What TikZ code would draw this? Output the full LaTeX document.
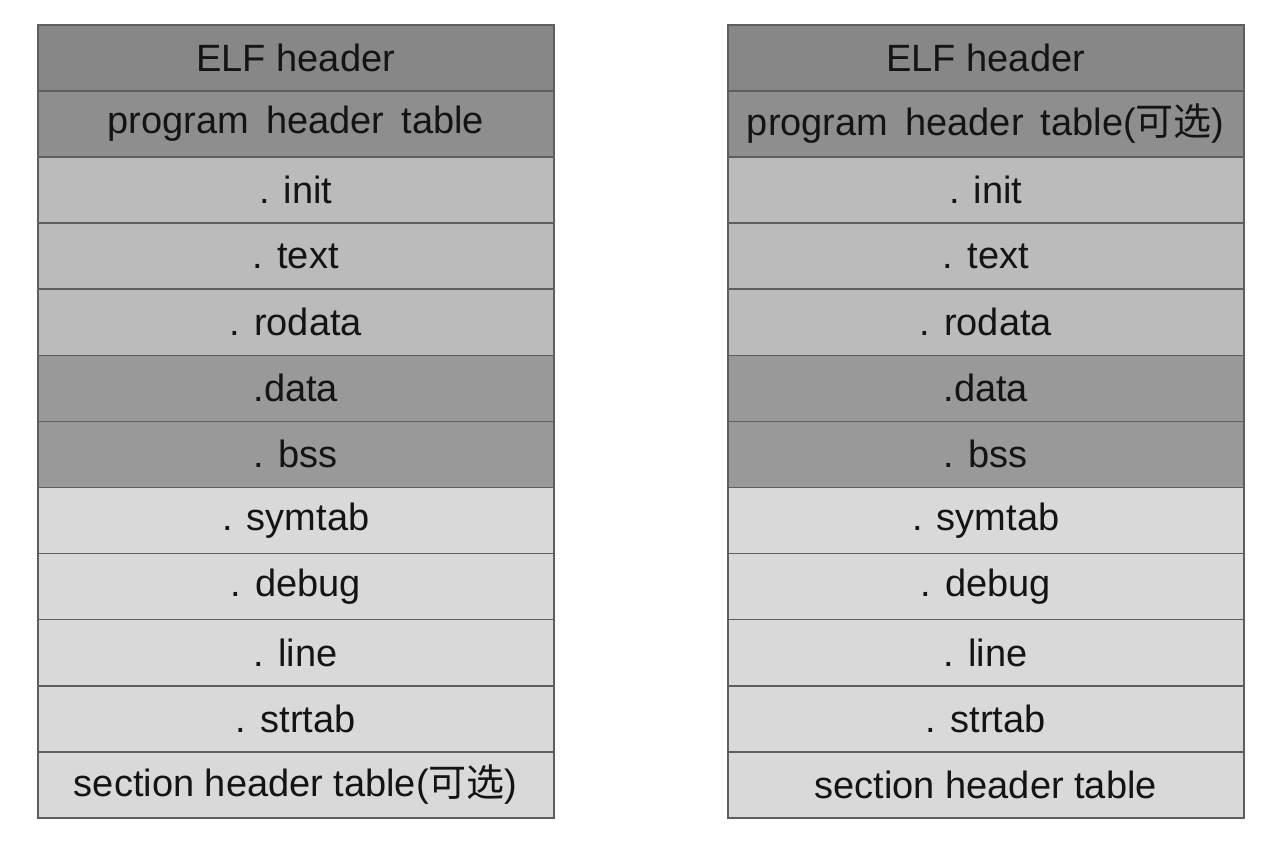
\documentclass[tikz,border=0pt]{standalone}
\usepackage{fontspec}
\setmainfont{Liberation Sans}
\newfontfamily\cjk{Noto Sans CJK SC}
\definecolor{cA}{HTML}{878787}
\definecolor{cB}{HTML}{8E8E8E}
\definecolor{cC}{HTML}{BBBBBB}
\definecolor{cD}{HTML}{999999}
\definecolor{cE}{HTML}{D9D9D9}
\definecolor{edge}{HTML}{5E5E5E}
\begin{document}
\begin{tikzpicture}[x=1pt,y=-1pt,
  cell/.style={draw=edge, line width=1.5pt, minimum width=516pt, minimum height=66.1pt,
    inner sep=0pt, anchor=north west, font=\fontsize{38}{38}\selectfont, text=black!92}]
\useasboundingbox (0,0) rectangle (1280,844);
\fill[white] (0,0) rectangle (1280,844);
\def\ws{\hspace{0.45em}}
% left stack
\node[cell, fill=cA] (l1)  at (37,24)        {ELF header};
\node[cell, fill=cB] (l2)  at (37,90.1)      {program\ws header\ws table};
\node[cell, fill=cC] (l3)  at (37,156.2)     {. init};
\node[cell, fill=cC] (l4)  at (37,222.3)     {. text};
\node[cell, fill=cC] (l5)  at (37,288.4)     {. rodata};
\node[cell, fill=cD] (l6)  at (37,354.5)     {.data};
\node[cell, fill=cD] (l7)  at (37,420.6)     {. bss};
\node[cell, fill=cE] (l8)  at (37,486.7)     {. symtab};
\node[cell, fill=cE] (l9)  at (37,552.8)     {. debug};
\node[cell, fill=cE] (l10) at (37,618.9)     {. line};
\node[cell, fill=cE] (l11) at (37,685.0)     {. strtab};
\node[cell, fill=cE] (l12) at (37,751.1)     {section header table({\cjk 可选})};
% right stack
\node[cell, fill=cA] (r1)  at (727,24)       {ELF header};
\node[cell, fill=cB] (r2)  at (727,90.1)     {program\ws header\ws table({\cjk 可选})};
\node[cell, fill=cC] (r3)  at (727,156.2)    {. init};
\node[cell, fill=cC] (r4)  at (727,222.3)    {. text};
\node[cell, fill=cC] (r5)  at (727,288.4)    {. rodata};
\node[cell, fill=cD] (r6)  at (727,354.5)    {.data};
\node[cell, fill=cD] (r7)  at (727,420.6)    {. bss};
\node[cell, fill=cE] (r8)  at (727,486.7)    {. symtab};
\node[cell, fill=cE] (r9)  at (727,552.8)    {. debug};
\node[cell, fill=cE] (r10) at (727,618.9)    {. line};
\node[cell, fill=cE] (r11) at (727,685.0)    {. strtab};
\node[cell, fill=cE] (r12) at (727,751.1)    {section header table};
\end{tikzpicture}
\end{document}
